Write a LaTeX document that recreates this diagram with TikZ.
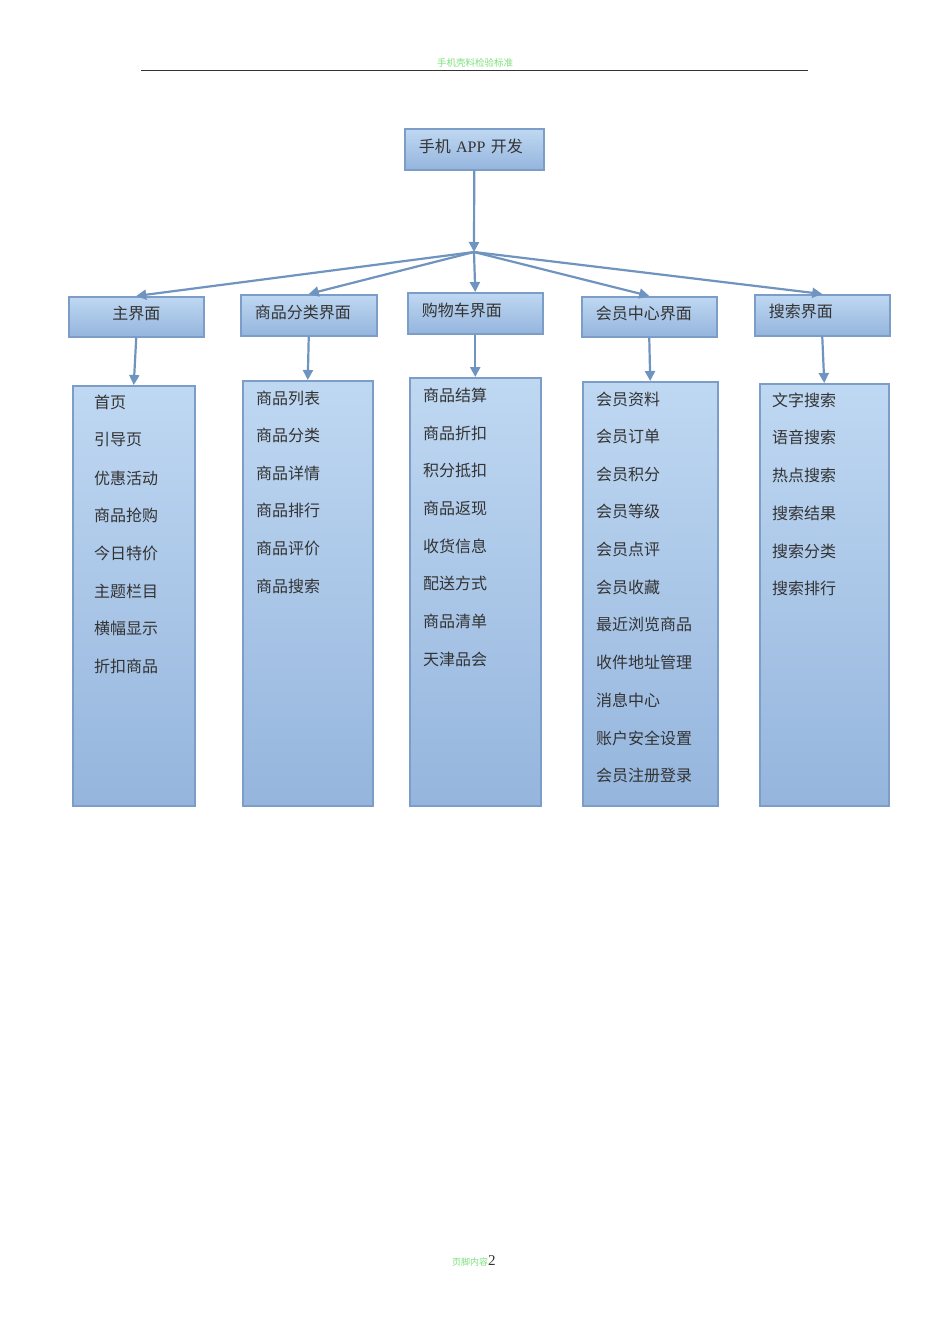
\documentclass[tikz,border=0pt]{standalone}
\usepackage{fontspec}
\setmainfont{Liberation Serif}
\newfontfamily\cjk{Noto Sans CJK SC}
\usetikzlibrary{arrows.meta}
\definecolor{bord}{HTML}{7B9DC7}
\definecolor{boxtop}{HTML}{BFD8F2}
\definecolor{boxbot}{HTML}{95B5DD}
\definecolor{arrc}{HTML}{6F94C0}
\definecolor{txt}{HTML}{333333}
\definecolor{hdr}{HTML}{7EE07E}
\begin{document}
\begin{tikzpicture}[x=1pt,y=-1pt,
  box/.style={draw=bord, line width=1.5pt, top color=boxtop, bottom color=boxbot, inner sep=0pt},
  lbl/.style={box, font=\cjk\fontsize{16}{16}\selectfont, text=txt, anchor=north west, text depth=8pt},
  arr/.style={draw=arrc, line width=2.2pt, -{Triangle[length=10pt,width=10pt]}},
  item/.style={anchor=west, inner sep=0pt, font=\cjk\fontsize{16}{16}\selectfont, text=txt}]
\useasboundingbox[fill=white] (0,0) rectangle (950,1344);
% header and footer
\node[inner sep=0pt, font=\cjk\fontsize{9.5}{9.5}\selectfont, text=hdr] (hd) at (475,63) {手机壳料检验标准};
\coordinate (hl) at (141,70);
\coordinate (hr) at (808,70);
\draw[line width=0.8pt, black!80] (hl) -- (hr);
\node[inner sep=0pt, anchor=base west] (ft) at (452,1265) {\cjk\fontsize{9}{9}\selectfont\color{hdr}页脚内容\fontsize{15}{15}\selectfont\rmfamily\color{txt}2};
% top
\node[lbl, minimum width=139pt, minimum height=41pt, text width=111pt, align=left] (top) at (404,128) {手机 {\rmfamily APP} 开发};
\coordinate (hub) at (474,252);
% level 2
\node[lbl, minimum width=135pt, minimum height=40pt, text width=107pt, align=center] (l1) at (68,296) {主界面};
\node[lbl, minimum width=136pt, minimum height=41pt, text width=108pt, align=left] (l2) at (240,294) {商品分类界面};
\node[lbl, minimum width=135pt, minimum height=41pt, text width=107pt, align=left] (l3) at (407,292) {购物车界面};
\node[lbl, minimum width=135pt, minimum height=40pt, text width=107pt, align=left] (l4) at (581,296) {会员中心界面};
\node[lbl, minimum width=135pt, minimum height=41pt, text width=107pt, align=left] (l5) at (754,294) {搜索界面};
% level 3 boxes
\node[box, anchor=north west, minimum width=122pt, minimum height=420pt] (b1) at (72,385) {};
\node[box, anchor=north west, minimum width=130pt, minimum height=425pt] (b2) at (242,380) {};
\node[box, anchor=north west, minimum width=131pt, minimum height=428pt] (b3) at (409,377) {};
\node[box, anchor=north west, minimum width=135pt, minimum height=424pt] (b4) at (582,381) {};
\node[box, anchor=north west, minimum width=129pt, minimum height=422pt] (b5) at (759,383) {};
% arrows
\draw[arr] (top.south) -- (hub);
\foreach \n in {l1,l2,l3,l4,l5} { \draw[arr] (hub) -- (\n.north); }
\draw[arr] (l1.south) -- (b1.north);
\draw[arr] (l2.south) -- (b2.north);
\draw[arr] (l3.south) -- (b3.north);
\draw[arr] (l4.south) -- (b4.north);
\draw[arr] (l5.south) -- (b5.north);
% items
\node[item] (a1) at (94,402) {首页};
\node[item] (a2) at (94,440) {引导页};
\node[item] (a3) at (94,478) {优惠活动};
\node[item] (a4) at (94,515) {商品抢购};
\node[item] (a5) at (94,553) {今日特价};
\node[item] (a6) at (94,591) {主题栏目};
\node[item] (a7) at (94,628) {横幅显示};
\node[item] (a8) at (94,666) {折扣商品};
\node[item] (c1) at (256,398) {商品列表};
\node[item] (c2) at (256,435) {商品分类};
\node[item] (c3) at (256,473) {商品详情};
\node[item] (c4) at (256,510) {商品排行};
\node[item] (c5) at (256,548) {商品评价};
\node[item] (c6) at (256,586) {商品搜索};
\node[item] (d1) at (423,395) {商品结算};
\node[item] (d2) at (423,433) {商品折扣};
\node[item] (d3) at (423,470) {积分抵扣};
\node[item] (d4) at (423,508) {商品返现};
\node[item] (d5) at (423,546) {收货信息};
\node[item] (d6) at (423,583) {配送方式};
\node[item] (d7) at (423,621) {商品清单};
\node[item] (d8) at (423,659) {天津品会};
\node[item] (e1) at (596,399) {会员资料};
\node[item] (e2) at (596,436) {会员订单};
\node[item] (e3) at (596,474) {会员积分};
\node[item] (e4) at (596,511) {会员等级};
\node[item] (e5) at (596,549) {会员点评};
\node[item] (e6) at (596,587) {会员收藏};
\node[item] (e7) at (596,624) {最近浏览商品};
\node[item] (e8) at (596,662) {收件地址管理};
\node[item] (e9) at (596,700) {消息中心};
\node[item] (e10) at (596,738) {账户安全设置};
\node[item] (e11) at (596,775) {会员注册登录};
\node[item] (f1) at (772,400) {文字搜索};
\node[item] (f2) at (772,437) {语音搜索};
\node[item] (f3) at (772,475) {热点搜索};
\node[item] (f4) at (772,513) {搜索结果};
\node[item] (f5) at (772,551) {搜索分类};
\node[item] (f6) at (772,588) {搜索排行};
\end{tikzpicture}
\end{document}
